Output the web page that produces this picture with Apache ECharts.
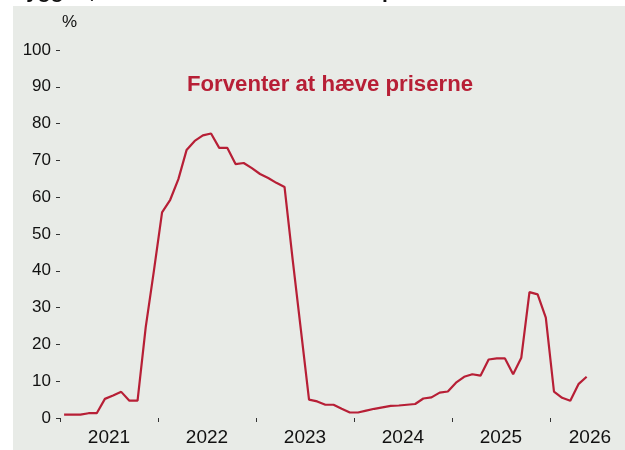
<!DOCTYPE html>
<html>
<head>
<meta charset="utf-8">
<script src="https://cdn.jsdelivr.net/npm/echarts@6/dist/echarts.min.js"></script>
<style>html,body{margin:0;padding:0;background:#fff}#c{width:625px;height:450px}</style>
</head>
<body>
<div id="c"></div>
<script>
// Monthly data, Jan 2021 - May 2026
const startYear = 2021;
const values = [0.9,0.9,0.9,1.3,1.3,5.2,6.1,7.1,4.7,4.7,
  24.7,40,55.9,59.3,64.9,72.8,75.3,76.8,77.3,73.4,
  73.4,69,69.3,67.9,66.3,65.2,63.9,62.8,43,24,
  5.0,4.5,3.6,3.6,2.5,1.5,1.5,2.0,2.5,2.9,
  3.3,3.4,3.6,3.8,5.3,5.6,6.9,7.2,9.6,11.2,
  11.9,11.5,15.9,16.2,16.2,11.9,16.4,34.2,33.6,27.3,
  7.2,5.5,4.7,9.2,11.2];
const months = values.map((v, i) => (startYear + Math.floor(i / 12)) + '-' + String(i % 12 + 1).padStart(2, '0'));
const yearTicks = [0, 12, 24, 36, 48, 60];          // year boundaries (months since Jan 2021)
const yearLabelPos = [6, 18, 30, 42, 54, 64.9];     // label positions
const yearLabels = ['2021', '2022', '2023', '2024', '2025', '2026'];
const yTicks = [0,10,20,30,40,50,60,70,80,90,100];

const seriesData = values.map((v, i) => [i + 0.5, v]);
const red = '#b71f36';
const font = '"Liberation Sans", Arial, sans-serif';

const chart = echarts.init(document.getElementById('c'), null, {renderer: 'canvas'});
chart.setOption({
  backgroundColor: '#ffffff',
  animation: false,
  graphic: [{
    type: 'rect', z: -10, silent: true,
    shape: {x: 13, y: 6, width: 612, height: 444},
    style: {fill: '#e8ebe7'}
  }],
  title: [{
    text: 'Byggeri, andel der forventer at hæve priserne de næste 3 måneder',
    left: 6, top: -23,
    textStyle: {fontFamily: font, fontSize: 21, fontWeight: 'bold', color: '#111'}
  }, {
    text: 'Forventer at hæve priserne',
    left: 182, top: 69,
    textStyle: {fontFamily: font, fontSize: 22.2, fontWeight: 'bold', color: red}
  }],
  grid: {left: 60, right: 0, top: 50, bottom: 32, containLabel: false},
  xAxis: {
    type: 'value', min: 0, max: 69.2,
    splitLine: {show: false},
    axisLine: {show: false},
    axisTick: {show: true, length: 4, inside: false, customValues: yearTicks, lineStyle: {color: '#333', width: 1}},
    axisLabel: {
      customValues: yearLabelPos,
      formatter: function (v) { return yearLabels[yearLabelPos.indexOf(v)] || ''; },
      fontFamily: font, fontSize: 19, color: '#111', margin: 10
    }
  },
  yAxis: {
    type: 'value', min: 0, max: 100, interval: 10,
    name: '%', nameLocation: 'end', nameGap: 19,
    nameTextStyle: {fontFamily: font, fontSize: 17, color: '#111', align: 'left', padding: [0, 0, 0, 2]},
    splitLine: {show: false},
    axisLine: {show: false},
    axisTick: {show: true, length: 4, lineStyle: {color: '#333', width: 1}},
    axisLabel: {fontFamily: font, fontSize: 17, color: '#111', margin: 9,
      customValues: yTicks}
  },
  series: [{
    type: 'line', data: seriesData, showSymbol: false,
    lineStyle: {color: red, width: 2.2}, clip: true
  }]
});
</script>
</body>
</html>
